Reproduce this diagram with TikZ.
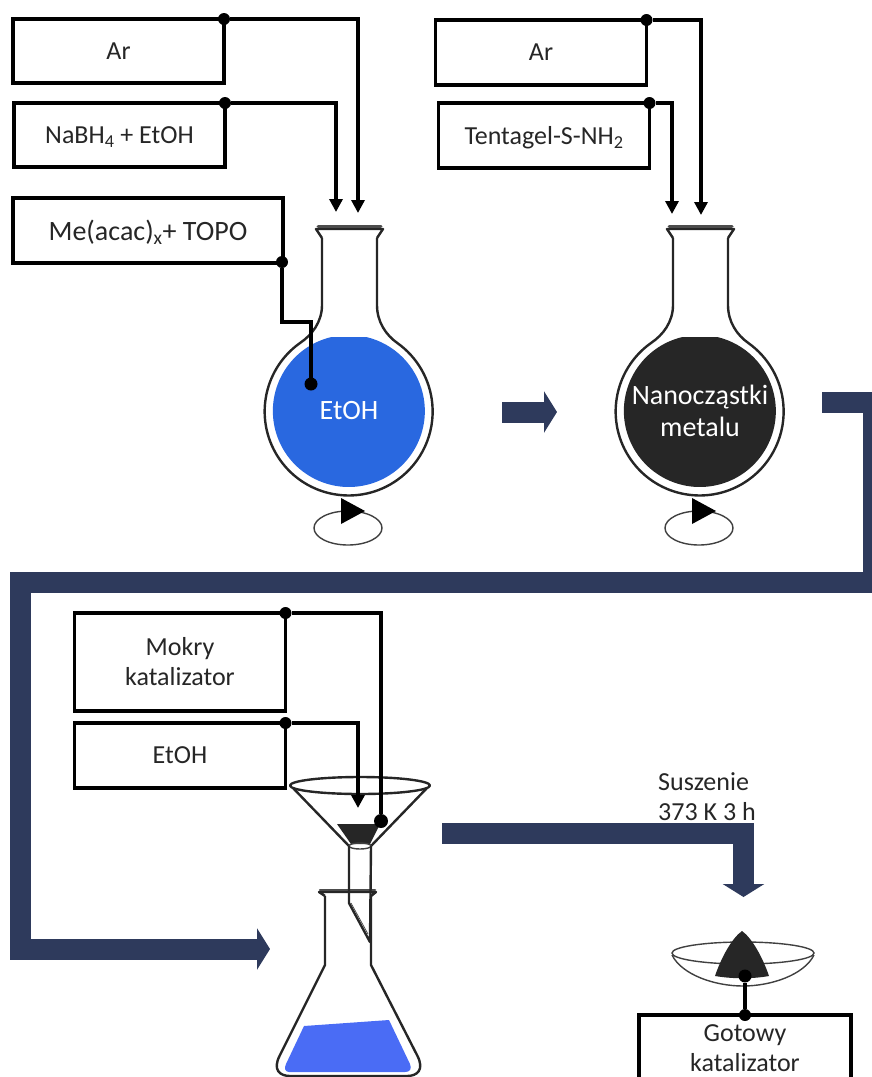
\documentclass[tikz,border=0pt]{standalone}
\usepackage{fontspec}
\setmainfont{Carlito}
\usetikzlibrary{arrows.meta}
\definecolor{flowblue}{HTML}{2E3A5C}
\definecolor{etohblue}{HTML}{2968E0}
\definecolor{solvblue}{HTML}{4A6CF5}
\definecolor{nanoblack}{HTML}{262626}
\tikzstyle{box}=[rectangle,draw=black,line width=3.4pt,outer sep=0pt,minimum width=211pt,minimum height=64pt,inner sep=0pt,align=center,text=nanoblack]
\tikzstyle{dot}=[circle,fill=black,inner sep=0pt,outer sep=0pt,minimum size=12pt]
\tikzstyle{pipe}=[line width=3.4pt,draw=black]
\tikzstyle{feed}=[pipe,-{Triangle[length=13pt,width=13pt]}]
\tikzstyle{flow}=[line width=21pt,draw=flowblue]
\tikzstyle{glass}=[line width=2.4pt,draw=black!85,line join=round]
\tikzstyle{thin glass}=[line width=1.4pt,draw=black!75]
\tikzstyle{big}=[font=\fontsize{28}{32}\selectfont]

\begin{document}
\begin{tikzpicture}[x=1pt,y=-1pt,font=\fontsize{26}{30}\selectfont]
  \path[use as bounding box,clip] (0,0) rectangle (872,1077);

  % flasks
  \foreach \x/\liquid in {0/etohblue,351/nanoblack} {
    \begin{scope}[shift={(\x,0)}]
      \fill[\liquid] (331.5,337) arc[start angle=256.8,end angle=-76.8,radius=76] -- cycle;
      \draw[glass] (322,238) -- (322,305) .. controls (322,322) and (312,335) .. (300,343)
        arc[start angle=234.6,end angle=-54.6,radius=84]
        .. controls (386,335) and (377,322) .. (377,305) -- (377,238);
      \draw[glass] (322,238) -- (316,229) -- (383,229) -- (377,238);
      \draw[line width=3pt,black!70,line cap=round] (318,226) -- (381,226);
      \draw[thin glass] (348,528) ellipse (34 and 17);
      \fill[black] (341,498) -- (365,511) -- (341,524) -- cycle;
    \end{scope}
  }
  \node[big,text=white,inner sep=0pt] (etoh) at (349,411) {EtOH};
  \node[big,text=white,inner sep=0pt,align=center] (nano) at (700,411) {Nanocząstki\\metalu};

  % top left
  \node[box] (ar) at (118.5,51) {Ar};
  \node[box,text depth=0pt] (nabh) at (119.5,135) {NaBH\textsubscript{4} + EtOH};
  \node[box,big,text depth=0pt,minimum width=270pt,minimum height=65pt] (acac) at (148,230.5)
    {Me(acac)\textsubscript{x}+ TOPO};
  \node[dot] (ar dot) at (ar.north east) {};
  \node[dot] (nabh dot) at (nabh.north east) {};
  \node[dot] (acac dot) at (282,262) {};
  \node[dot,minimum size=13pt] (acac end) at (311,384) {};
  \coordinate (ar end) at (358,213);
  \coordinate (nabh end) at (336,212);
  \draw[feed] (ar dot) -| (ar end);
  \draw[feed] (nabh dot) -| (nabh end);
  \draw[pipe] (acac dot) |- (311,322) -- (acac end);

  % top right
  \node[box,minimum height=65pt] (ar 2) at (541,52.5) {Ar};
  \node[box,text depth=0pt,minimum height=65pt] (tenta) at (544,135.5) {Tentagel-S-NH\textsubscript{2}};
  \node[dot] (ar 2 dot) at (ar 2.north east) {};
  \node[dot] (tenta dot) at (tenta.north east) {};
  \coordinate (ar 2 end) at (701,215);
  \coordinate (tenta end) at (672,214);
  \draw[feed] (ar 2 dot) -| (ar 2 end);
  \draw[feed] (tenta dot) -| (tenta end);

  % flow arrows
  \coordinate (a start) at (502,412);
  \coordinate (a end) at (557,412);
  \draw[flow,-{Triangle[length=13pt,width=41pt]}] (a start) -- (a end);
  \coordinate (b start) at (822,402.5);
  \coordinate (b end) at (270,949);
  \draw[flow,-{Triangle[length=13pt,width=41pt]}] (b start) -- (873.5,402.5) -- (873.5,582.5)
    -- (20.5,582.5) -- (20.5,949) -- (b end);
  \coordinate (c start) at (442,833);
  \coordinate (c end) at (743.5,897);
  \draw[flow,-{Triangle[length=13pt,width=41pt]}] (c start) -| (c end);

  % funnel and conical flask
  \fill[solvblue] (304,1026) -- (389,1020) -- (410,1064) .. controls (412,1069) and (410,1072) .. (405,1072)
    -- (289,1072) .. controls (285,1072) and (284,1068) .. (286,1064) -- cycle;
  \draw[glass] (325,896) -- (325,965) -- (280,1055) .. controls (272,1070) and (280,1076) .. (290,1076)
    -- (407,1076) .. controls (417,1076) and (425,1070) .. (417,1055) -- (371,965) -- (371,896);
  \draw[glass] (325,896) -- (319,892) -- (376,892) -- (371,896);
  \draw[line width=2.5pt,black!70,line cap=round] (320,890) -- (375,890);
  \fill[nanoblack] (337,824) -- (380,824) -- (370,844) -- (351,844) -- cycle;
  \draw[glass] (360,785.5) ellipse (70 and 8.5);
  \draw[glass] (293,788) -- (349,846) (427,788) -- (371,846);
  \draw[thin glass] (360,846) ellipse (11 and 3);
  \draw[glass] (349,846) -- (349,903) -- (370,942) -- (371,846);
  \draw[thin glass,line width=.7pt] (351,903) -- (368,934);

  % boxes over the funnel
  \node[box,minimum height=98pt] (mokry) at (180,662) {Mokry\\katalizator};
  \node[box,minimum height=65pt] (etoh box) at (180,755.5) {EtOH};
  \node[dot] (mokry dot) at (mokry.north east) {};
  \node[dot] (etoh box dot) at (etoh box.north east) {};
  \node[dot,minimum size=14pt] (mokry end) at (381,821) {};
  \coordinate (etoh box end) at (358,808);
  \draw[pipe] (mokry dot) -| (mokry end);
  \draw[feed] (etoh box dot) -| (etoh box end);

  % drying
  \node[align=left,inner sep=0pt,text=nanoblack] (dry) at (707,797) {Suszenie\\373 K 3 h};
  \draw[thin glass] (743,953) ellipse (71 and 11);
  \draw[thin glass] (672,955) .. controls (682,975) and (715,986) .. (743,986)
    .. controls (771,986) and (804,975) .. (814,955);
  \fill[nanoblack] (742,931) .. controls (752,938) and (763,958) .. (769,976)
    .. controls (752,979) and (733,979) .. (715,976) .. controls (721,958) and (732,938) .. (742,931) -- cycle;
  \node[box,minimum width=212pt,minimum height=66pt] (gotowy) at (745,1048) {Gotowy\\katalizator};
  \node[dot,minimum size=13pt] (solid dot) at (745,976) {};
  \node[dot] (gotowy dot) at (gotowy.north) {};
  \draw[pipe] (gotowy dot) -- (solid dot);
\end{tikzpicture}
\end{document}
